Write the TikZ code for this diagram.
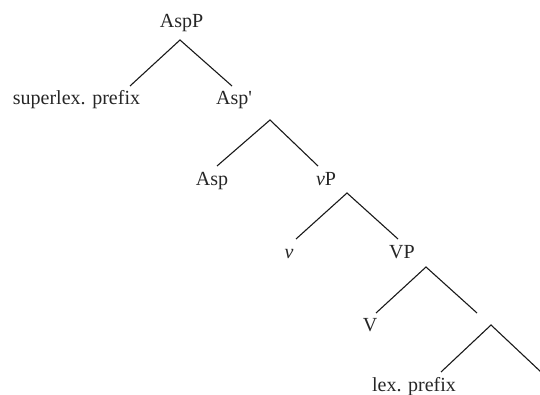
\documentclass[tikz,border=0pt]{standalone}
\usepackage{fontspec}
\setmainfont{Liberation Serif}
\begin{document}
\begin{tikzpicture}[x=1pt,y=1pt,
  lab/.style={anchor=base,inner sep=0pt,font=\fontsize{20}{24}\selectfont,text=black!85},
  branch/.style={line width=1.1pt,black!90}]
\useasboundingbox (0,0) rectangle (540,394);
% labels (y = 394 - pixel row)
\node[lab] (AspP) at (181.5,366) {AspP};
\node[lab] (sup) at (76.5,289) {superlex. prefix};
\node[lab] (Aspbar) at (234,289) {Asp\textquotesingle};
\node[lab] (Asp) at (212,208) {Asp};
\node[lab] (vP) at (326,208) {\textit{v}P};
\node[lab] (v) at (289,136) {\textit{v}};
\node[lab] (VP) at (402,136) {VP};
\node[lab] (V) at (370,63) {V};
\node[lab] (lex) at (414,3) {lex. prefix};
% branch points
\coordinate (AspP-t) at (180,354);
\coordinate (sup-t) at (130,308);
\coordinate (Aspbar-t) at (232,308);
\coordinate (Aspbar-b) at (270,274);
\coordinate (Asp-t) at (217,228);
\coordinate (vP-t) at (318,228);
\coordinate (vP-b) at (347,201);
\coordinate (v-t) at (296,155);
\coordinate (VP-t) at (398,155);
\coordinate (VP-b) at (426,127);
\coordinate (V-t) at (376,81);
\coordinate (X-t) at (477,81);
\coordinate (X-b) at (491,69);
\coordinate (lex-t) at (441,22);
\coordinate (Y-t) at (541,22);
\draw[branch] (sup-t) -- (AspP-t) -- (Aspbar-t);
\draw[branch] (Asp-t) -- (Aspbar-b) -- (vP-t);
\draw[branch] (v-t) -- (vP-b) -- (VP-t);
\draw[branch] (V-t) -- (VP-b) -- (X-t);
\draw[branch] (lex-t) -- (X-b) -- (Y-t);
\end{tikzpicture}
\end{document}
